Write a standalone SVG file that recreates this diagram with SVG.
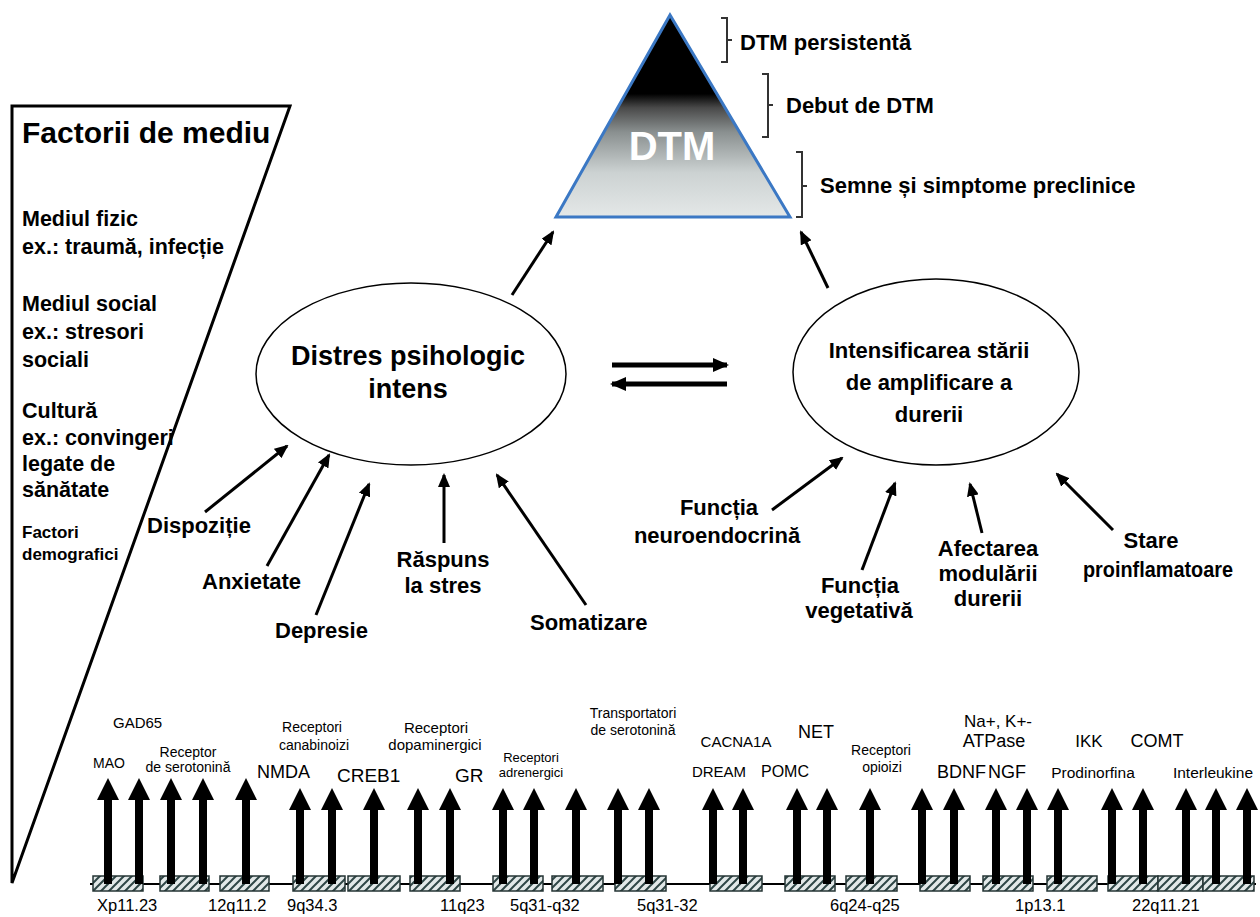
<svg xmlns="http://www.w3.org/2000/svg" xmlns:xlink="http://www.w3.org/1999/xlink" width="1260" height="917" viewBox="0 0 1260 917">
<style>
text{font-family:"Liberation Sans",Arial,sans-serif;fill:#000}
.b{font-weight:bold}
.lf{font-size:21.5px;font-weight:bold}
.lb{font-size:22px;font-weight:bold}
.st{font-size:22px;font-weight:bold}
.c{text-anchor:middle}
.g{font-size:14px}
.gl{font-size:18px}
.loc{font-size:16.5px}
.ar{stroke:#000;stroke-width:3;fill:none;marker-end:url(#ah)}
.br{stroke:#333;stroke-width:2;fill:none}
.box{fill:url(#hatch);stroke:#243434;stroke-width:1.5}
</style>
<defs>
<linearGradient id="tg" x1="0" y1="0" x2="0" y2="1">
<stop offset="0" stop-color="#000"/>
<stop offset="0.39" stop-color="#000"/>
<stop offset="0.46" stop-color="#4a4a4a"/>
<stop offset="0.58" stop-color="#8a9090"/>
<stop offset="0.78" stop-color="#ccd2d2"/>
<stop offset="1" stop-color="#e4e8e8"/>
</linearGradient>
<pattern id="hatch" width="8" height="8" patternUnits="userSpaceOnUse">
<rect width="8" height="8" fill="#e2e8e8"/>
<path d="M0,8 L8,0 M-2,2 L2,-2 M6,10 L10,6" stroke="#2f4646" stroke-width="2"/>
</pattern>
<marker id="ah" viewBox="0 0 14 12" markerWidth="14" markerHeight="12" refX="12" refY="6" orient="auto" markerUnits="userSpaceOnUse">
<path d="M0,0 L14,6 L0,12 z" fill="#000"/>
</marker>
<marker id="ah2" viewBox="0 0 16 14" markerWidth="16" markerHeight="14" refX="14" refY="7" orient="auto" markerUnits="userSpaceOnUse">
<path d="M0,0 L16,7 L0,14 z" fill="#000"/>
</marker>
<path id="ga" d="M0,0 L11,22 L4,22 L4,96 L-4,96 L-4,22 L-11,22 Z" fill="#000"/>
<path id="gb" d="M0,0 L11,22 L4,22 L4,106 L-4,106 L-4,22 L-11,22 Z" fill="#000"/>
</defs>
<rect width="1260" height="917" fill="#fff"/>

<g id="env-factors">
<polygon points="12,106 290,106 12,883" fill="none" stroke="#000" stroke-width="3"/>
<text x="22" y="143" class="b" font-size="30">Factorii de mediu</text>
<text x="22" y="226" class="lf">Mediul fizic</text>
<text x="22" y="254" class="lf">ex.: traumă, infecție</text>
<text x="22" y="311" class="lf">Mediul social</text>
<text x="22" y="339" class="lf">ex.: stresori</text>
<text x="22" y="367" class="lf">sociali</text>
<text x="22" y="418" class="lf">Cultură</text>
<text x="22" y="445" class="lf">ex.: convingeri</text>
<text x="22" y="471" class="lf">legate de</text>
<text x="22" y="497" class="lf">sănătate</text>
<text x="22" y="538" class="b" font-size="17">Factori</text>
<text x="22" y="560" class="b" font-size="17">demografici</text>
</g>

<g id="dtm-triangle">
<polygon points="670,15 556,217 790,217" fill="url(#tg)" stroke="#3b78c4" stroke-width="3"/>
<text x="672" y="160" class="b c" font-size="40" style="fill:#fff">DTM</text>
</g>

<g id="stage-persistent">
<path class="br" d="M721,18 H727 V62 H721 M727,40 H732"/>
<text x="740" y="50" class="st">DTM persistentă</text>
</g>
<g id="stage-onset">
<path class="br" d="M762,74 H768 V137 H762 M768,105 H773"/>
<text x="786" y="113" class="st">Debut de DTM</text>
</g>
<g id="stage-preclinical">
<path class="br" d="M796,152 H802 V217 H796 M802,186 H807"/>
<text x="820" y="193" class="st">Semne și simptome preclinice</text>
</g>

<g id="distress">
<ellipse cx="411" cy="374" rx="155" ry="91" fill="none" stroke="#000" stroke-width="1.5"/>
<text x="408" y="365" class="b c" font-size="27">Distres psihologic</text>
<text x="408" y="398" class="b c" font-size="27">intens</text>
</g>

<g id="pain-amplification">
<ellipse cx="936" cy="372" rx="143" ry="93" fill="none" stroke="#000" stroke-width="1.5"/>
<text x="929" y="358" class="b c" font-size="22">Intensificarea stării</text>
<text x="929" y="390" class="b c" font-size="22">de amplificare a</text>
<text x="929" y="422" class="b c" font-size="22">durerii</text>
</g>

<g id="psych-factors">
<text x="147" y="533" class="lb">Dispoziție</text>
<text x="202" y="589" class="lb">Anxietate</text>
<text x="275" y="638" class="lb">Depresie</text>
<text x="443" y="567" class="lb c">Răspuns</text>
<text x="443" y="593" class="lb c">la stres</text>
<text x="530" y="630" class="lb">Somatizare</text>
</g>

<g id="pain-factors">
<text x="719" y="515" class="lb c">Funcția</text>
<text x="717" y="543" class="lb c">neuroendocrină</text>
<text x="860" y="593" class="lb c">Funcția</text>
<text x="859" y="618" class="lb c">vegetativă</text>
<text x="988" y="556" class="lb c">Afectarea</text>
<text x="988" y="581" class="lb c">modulării</text>
<text x="988" y="606" class="lb c">durerii</text>
<text x="1151" y="548" class="lb c">Stare</text>
<text x="1158" y="577" class="lb c" textLength="150" lengthAdjust="spacingAndGlyphs">proinflamatoare</text>
</g>

<g id="genes">
<line x1="90" y1="884" x2="1256" y2="884" stroke="#000" stroke-width="2"/>
<rect class="box" x="93" y="876" width="50" height="15"/>
<rect class="box" x="160" y="876" width="49" height="15"/>
<rect class="box" x="220" y="876" width="49" height="15"/>
<rect class="box" x="293" y="876" width="52" height="15"/>
<rect class="box" x="348" y="876" width="52" height="15"/>
<rect class="box" x="410" y="876" width="50" height="15"/>
<rect class="box" x="493" y="876" width="50" height="15"/>
<rect class="box" x="552" y="876" width="51" height="15"/>
<rect class="box" x="615" y="876" width="51" height="15"/>
<rect class="box" x="710" y="876" width="52" height="15"/>
<rect class="box" x="785" y="876" width="50" height="15"/>
<rect class="box" x="846" y="876" width="51" height="15"/>
<rect class="box" x="920" y="876" width="50" height="15"/>
<rect class="box" x="983" y="876" width="50" height="15"/>
<rect class="box" x="1047" y="876" width="50" height="15"/>
<rect class="box" x="1108" y="876" width="50" height="15"/>
<rect class="box" x="1158" y="876" width="45" height="15"/>
<rect class="box" x="1203" y="876" width="51" height="15"/>
<text x="113" y="728" font-size="15">GAD65</text>
<text x="93" y="768" class="g">MAO</text>
<text x="188" y="757" class="g c">Receptor</text>
<text x="188" y="772" class="g c">de serotonină</text>
<text x="257" y="778" class="gl">NMDA</text>
<text x="312" y="732" class="g c">Receptori</text>
<text x="314" y="750" class="g c">canabinoizi</text>
<text x="337" y="782" font-size="19">CREB1</text>
<text x="436" y="733" font-size="15" class="c">Receptori</text>
<text x="435" y="750" font-size="15" class="c">dopaminergici</text>
<text x="455" y="782" font-size="19">GR</text>
<text x="531" y="762" font-size="13" class="c">Receptori</text>
<text x="531" y="777" font-size="13" class="c">adrenergici</text>
<text x="633" y="718" class="g c">Transportatori</text>
<text x="633" y="735" class="g c">de serotonină</text>
<text x="736" y="747" font-size="15" class="c">CACNA1A</text>
<text x="816" y="738" class="gl c">NET</text>
<text x="719" y="777" font-size="15" class="c">DREAM</text>
<text x="785" y="777" font-size="16" class="c">POMC</text>
<text x="881" y="755" class="g c">Receptori</text>
<text x="882" y="772" class="g c">opioizi</text>
<text x="998" y="727" font-size="17" class="c">Na+, K+-</text>
<text x="994" y="747" font-size="18" class="c">ATPase</text>
<text x="937" y="778" class="gl">BDNF</text>
<text x="988" y="778" class="gl">NGF</text>
<text x="1089" y="747" font-size="17" class="c">IKK</text>
<text x="1157" y="747" font-size="18" class="c">COMT</text>
<text x="1093" y="778" font-size="15.5" class="c">Prodinorfina</text>
<text x="1213" y="778" font-size="15.5" class="c">Interleukine</text>
<text x="97" y="911" class="loc">Xp11.23</text>
<text x="208" y="911" class="loc">12q11.2</text>
<text x="287" y="911" class="loc">9q34.3</text>
<text x="440" y="911" class="loc">11q23</text>
<text x="510" y="911" class="loc">5q31-q32</text>
<text x="637" y="911" class="loc">5q31-32</text>
<text x="830" y="911" class="loc">6q24-q25</text>
<text x="1015" y="911" class="loc">1p13.1</text>
<text x="1132" y="911" class="loc">22q11.21</text>
</g>

<g id="connectors">
<line class="ar" x1="512" y1="295" x2="553" y2="232"/>
<line class="ar" x1="828" y1="288" x2="801" y2="232"/>
<line x1="612" y1="365" x2="727" y2="365" stroke="#000" stroke-width="5" marker-end="url(#ah2)"/>
<line x1="727" y1="384" x2="612" y2="384" stroke="#000" stroke-width="5" marker-end="url(#ah2)"/>
<line class="ar" x1="205" y1="512" x2="287" y2="446"/>
<line class="ar" x1="267" y1="566" x2="329" y2="455"/>
<line class="ar" x1="316" y1="615" x2="369" y2="484"/>
<line class="ar" x1="444" y1="543" x2="444" y2="475"/>
<line class="ar" x1="586" y1="605" x2="497" y2="475"/>
<line class="ar" x1="772" y1="510" x2="842" y2="458"/>
<line class="ar" x1="862" y1="570" x2="895" y2="483"/>
<line class="ar" x1="982" y1="533" x2="970" y2="484"/>
<line class="ar" x1="1113" y1="530" x2="1057" y2="474"/>
<use xlink:href="#gb" x="108" y="778"/>
<use xlink:href="#gb" x="139" y="778"/>
<use xlink:href="#gb" x="171" y="778"/>
<use xlink:href="#gb" x="203" y="778"/>
<use xlink:href="#gb" x="246" y="778"/>
<use xlink:href="#ga" x="300" y="788"/>
<use xlink:href="#ga" x="332" y="788"/>
<use xlink:href="#ga" x="374" y="788"/>
<use xlink:href="#ga" x="418" y="788"/>
<use xlink:href="#ga" x="450" y="788"/>
<use xlink:href="#ga" x="503" y="788"/>
<use xlink:href="#ga" x="534" y="788"/>
<use xlink:href="#ga" x="576" y="788"/>
<use xlink:href="#ga" x="618" y="788"/>
<use xlink:href="#ga" x="649" y="788"/>
<use xlink:href="#ga" x="713" y="788"/>
<use xlink:href="#ga" x="743" y="788"/>
<use xlink:href="#ga" x="797" y="788"/>
<use xlink:href="#ga" x="827" y="788"/>
<use xlink:href="#ga" x="870" y="788"/>
<use xlink:href="#ga" x="922" y="788"/>
<use xlink:href="#ga" x="954" y="788"/>
<use xlink:href="#ga" x="996" y="788"/>
<use xlink:href="#ga" x="1027" y="788"/>
<use xlink:href="#ga" x="1058" y="788"/>
<use xlink:href="#ga" x="1112" y="788"/>
<use xlink:href="#ga" x="1143" y="788"/>
<use xlink:href="#ga" x="1186" y="788"/>
<use xlink:href="#ga" x="1216" y="788"/>
<use xlink:href="#ga" x="1247" y="788"/>
</g>
</svg>
